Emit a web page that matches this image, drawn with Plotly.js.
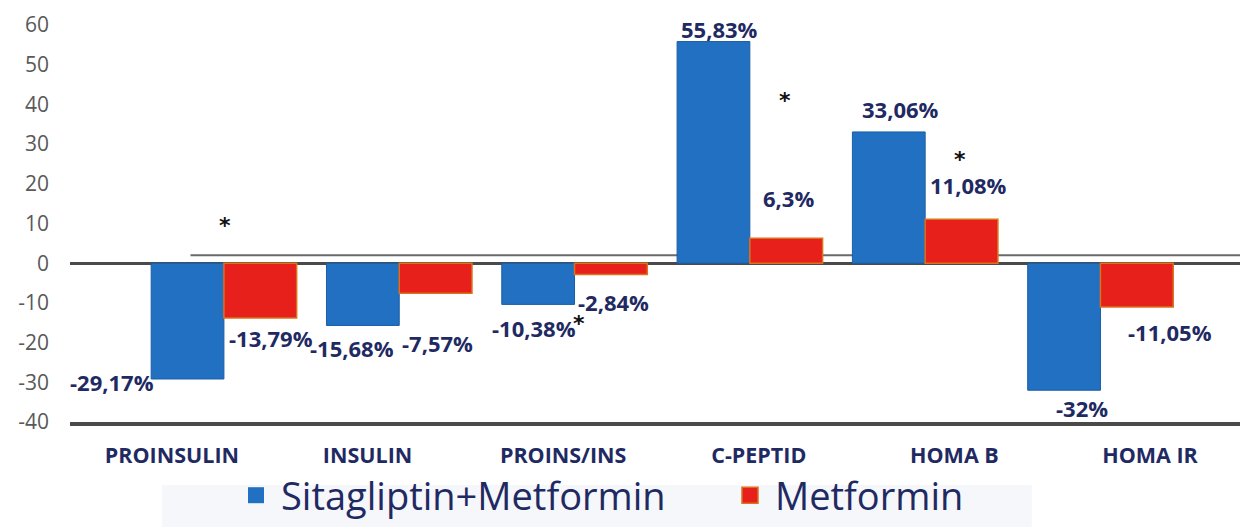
<!DOCTYPE html>
<html>
<head>
<meta charset="utf-8">
<script src="https://cdn.plot.ly/plotly-3.0.1.min.js"></script>
<style>html,body{margin:0;padding:0;background:#fff;}#chart{width:1240px;height:527px;}</style>
</head>
<body>
<div id="chart"></div>
<script>
// ---- data ----
var categories = ['PROINSULIN', 'INSULIN', 'PROINS/INS', 'C-PEPTID', 'HOMA B', 'HOMA IR'];
var sitagliptinMetformin = [-29.17, -15.68, -10.38, 55.83, 33.06, -32];
var metformin = [-13.79, -7.57, -2.84, 6.3, 11.08, -11.05];
var seriesNames = ['Sitagliptin+Metformin', 'Metformin'];
var significant = ['PROINSULIN', 'PROINS/INS', 'C-PEPTID', 'HOMA B'];
var yTicks = [60, 50, 40, 30, 20, 10, 0, -10, -20, -30, -40];

// ---- style (label offsets in px, star placement) ----
var blueShift = [[-112, -3], [-47, -23], [-41, -24], [-30, 13], [-25, 23], [-18, -18]];
var redShift = [[47, -20], [38, -50], [39, -28], [39, 40], [43, 34], [70, -25]];
var starPos = [[1, 9.6], [4, -15.3], [35, 41.1], [35, 26.2]];

function fmt(v) { return String(v).replace('.', ',') + '%'; }

var navy = '#1f2a63';
var blue = '#2170c2', red = '#e8201c';
var traces = [
  {type: 'bar', name: seriesNames[0], x: categories, y: sitagliptinMetformin, showlegend: false,
   marker: {color: blue, line: {color: '#1a5ea6', width: 1}}, xaxis: 'x', yaxis: 'y'},
  {type: 'bar', name: seriesNames[1], x: categories, y: metformin, showlegend: false,
   marker: {color: red, line: {color: '#d9731c', width: 1.5}}, xaxis: 'x', yaxis: 'y'},
  {type: 'scatter', mode: 'markers', name: seriesNames[0], x: [null], y: [null],
   marker: {symbol: 'square', size: 16, color: blue, line: {width: 0}}, hoverinfo: 'skip'},
  {type: 'scatter', mode: 'markers', name: seriesNames[1], x: [null], y: [null],
   marker: {symbol: 'square', size: 16, color: red, line: {color: '#d9731c', width: 1.5}}, hoverinfo: 'skip'},
  {type: 'scatter', mode: 'markers', x: categories, y: categories.map(function(){return null;}),
   xaxis: 'x2', yaxis: 'y', showlegend: false, hoverinfo: 'skip'}
];

var annotations = [];
categories.forEach(function(c, i) {
  annotations.push({x: c, y: sitagliptinMetformin[i], xref: 'x', yref: 'y', text: fmt(sitagliptinMetformin[i]),
    showarrow: false, xshift: blueShift[i][0], yshift: blueShift[i][1],
    font: {family: 'Open Sans', size: 22, color: navy, weight: 'bold'}});
  annotations.push({x: c, y: metformin[i], xref: 'x', yref: 'y', text: fmt(metformin[i]),
    showarrow: false, xshift: redShift[i][0], yshift: redShift[i][1],
    font: {family: 'Open Sans', size: 22, color: navy, weight: 'bold'}});
});
significant.forEach(function(c, k) {
  annotations.push({x: c, y: starPos[k][1], xref: 'x', yref: 'y', text: '*', showarrow: false,
    xshift: starPos[k][0], font: {family: 'DejaVu Sans', size: 22, color: '#111', weight: 'bold'}});
});

var layout = {
  width: 1240, height: 527,
  margin: {l: 70, r: 0, t: 25, b: 0},
  paper_bgcolor: '#ffffff', plot_bgcolor: '#ffffff',
  barmode: 'group', bargap: 0.17, bargroupgap: 0,
  showlegend: true,
  legend: {orientation: 'h', x: 0.1376, xanchor: 'left', y: 0, yanchor: 'bottom',
    bgcolor: 'rgba(0,0,0,0)', font: {family: 'Open Sans', size: 38, color: navy},
    itemwidth: 40, entrywidth: 439, traceorder: 'normal'},
  xaxis: {type: 'category', range: [-0.878, 5.796], showticklabels: false, ticks: '',
    showline: true, linecolor: '#4a4a4a', linewidth: 4, showgrid: false, zeroline: false, fixedrange: true},
  xaxis2: {type: 'category', overlaying: 'x', anchor: 'y', side: 'bottom', range: [-0.521, 5.46],
    showline: false, showgrid: false, ticks: '', ticklabelstandoff: 19,
    tickfont: {family: 'Open Sans', size: 21.5, color: navy, weight: 'bold'}},
  yaxis: {domain: [0.2092, 1], range: [-40, 60], tickmode: 'array', tickvals: yTicks, ticktext: yTicks.map(String),
    showgrid: false, zeroline: true, zerolinecolor: '#4a4a4a', zerolinewidth: 3,
    showline: false, ticks: '', ticklabelstandoff: 20,
    tickfont: {family: 'Open Sans', size: 21, color: '#595959'}},
  shapes: [
    {type: 'rect', xref: 'paper', yref: 'paper', x0: 0.0786, x1: 0.822, y0: 0, y1: 0.0837,
     fillcolor: '#f6f7fa', line: {width: 0}, layer: 'below'},
    {type: 'line', xref: 'paper', yref: 'y', x0: 0.103, x1: 1, y0: 2.0, y1: 2.0,
     line: {color: '#6a6a6a', width: 2}, layer: 'below'}
  ],
  annotations: annotations
};

Plotly.newPlot('chart', traces, layout, {displayModeBar: false, staticPlot: true});
</script>
</body>
</html>
